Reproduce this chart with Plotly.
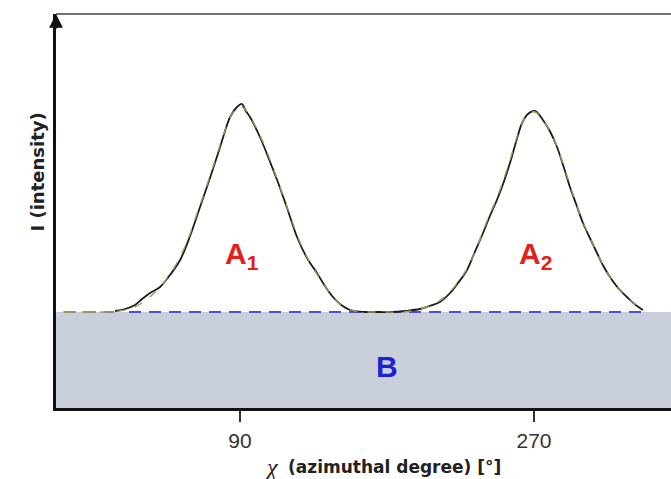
import plotly.graph_objects as go

# ---- data (chi in degrees, intensity in arbitrary units) ----
x_range = [-22.7, 353.9]
y_max = 394
baseline_B = 96

chi_meas = [13.5, 19.6, 25.7, 30.0, 34.9, 41.0, 47.1, 53.3, 59.4, 65.5, 71.6, 77.8,
            83.9, 87.6, 91.2, 93.5, 96.1, 102.2, 108.4, 112.7, 118.8, 124.9, 131.0,
            137.1, 142.0, 146.9, 152.0, 157.3, 166.5, 175.0, 183.0, 191.0, 200.2,
            206.0, 212.4, 218.6, 223.5, 229.0, 233.5, 238.8, 243.0, 247.3, 251.5,
            255.3, 259.0, 262.7, 266.3, 270.6, 275.5, 280.0, 284.1, 288.0, 292.0,
            296.0, 300.0, 304.5, 308.6, 312.5, 316.5, 321.5, 326.9, 331.5, 336.7]
I_meas = [97, 99, 103, 109, 115, 121, 133, 148, 172, 201, 230, 261,
          291, 300, 304, 297, 291, 271, 246, 228, 200, 171, 150,
          135, 122, 111, 103, 98, 96, 96, 96, 97, 99,
          102, 106, 115, 125, 138, 155, 175, 192, 208, 226,
          245, 266, 285, 294, 297, 288, 276, 261, 242, 221,
          203, 185, 169, 155, 142, 131, 120, 111, 104, 98]

chi_fit = [-18.0, 0.0, 10.0, 16.0, 22.0, 28.0, 34.0, 40.0, 46.0, 52.0, 58.0, 64.0,
           70.0, 76.0, 82.0, 86.0, 90.0, 94.0, 98.0, 104.0, 110.0, 116.0, 122.0,
           128.0, 134.0, 140.0, 146.0, 152.0, 160.0, 170.0, 180.0, 190.0, 198.0,
           206.0, 212.0, 218.0, 224.0, 230.0, 236.0, 242.0, 248.0, 254.0, 260.0,
           264.0, 268.0, 272.0, 276.0, 282.0, 288.0, 294.0, 300.0, 306.0, 312.0,
           318.0, 324.0, 330.0, 337.5]
I_fit = [96, 96, 96, 97, 99, 103, 110, 119, 131, 147, 168, 196,
         224, 254, 283, 297, 302, 297, 286, 266, 241, 214, 186,
         161, 142, 127, 113, 103, 97, 96, 96, 96, 98,
         102, 107, 115, 127, 142, 165, 190, 213, 241, 273,
         289, 296, 295, 287, 269, 243, 213, 186, 164, 144,
         127, 115, 106, 97]

base_left_chi = [-18.0, 13.0]
base_main_chi = [22.0, 338.0]

tick_vals = [90, 270]
tick_text = ["90", "270"]

labels = [("A<sub>1</sub>", 90.9, 153, "#e3201b"),
          ("A<sub>2</sub>", 270.9, 153, "#e3201b"),
          ("B", 180.0, 42, "#1e22d6")]

fig = go.Figure()

# shaded background region B
fig.add_trace(go.Scatter(x=x_range, y=[baseline_B, baseline_B], mode="lines",
                         line=dict(width=0), fill="tozeroy",
                         fillcolor="#c9d0dc", hoverinfo="skip"))
# baseline dashed lines
fig.add_trace(go.Scatter(x=base_main_chi, y=[baseline_B, baseline_B], mode="lines",
                         line=dict(color="#4f4fd0", width=2, dash="12px,8px")))
fig.add_trace(go.Scatter(x=base_left_chi, y=[baseline_B, baseline_B], mode="lines",
                         line=dict(color="#8a8a80", width=2, dash="12px,8px")))
# measured curve
fig.add_trace(go.Scatter(x=chi_meas, y=I_meas, mode="lines", line_shape="spline",
                         line=dict(color="#1c1c1c", width=1.8)))
# fit curve (dashed)
fig.add_trace(go.Scatter(x=chi_fit, y=I_fit, mode="lines", line_shape="spline",
                         line=dict(color="#9a9a55", width=1.4, dash="8px,10px")))

for txt, x, y, c in labels:
    fig.add_annotation(x=x, y=y, text="<b>" + txt + "</b>", showarrow=False,
                       font=dict(family="Liberation Sans, Arial", size=30, color=c),
                       xanchor="center", yanchor="middle")

# y axis arrow head
fig.add_annotation(x=x_range[0], y=y_max, ax=0, ay=16, axref="pixel", ayref="pixel",
                   showarrow=True, arrowhead=2, arrowsize=1.1, arrowwidth=2.5,
                   arrowcolor="#111", text="")

# y axis title
fig.add_annotation(xref="paper", yref="paper", x=0, y=(408 - 172) / 394.0, xshift=-32,
                   text="<b>I (intensity)</b>", textangle=-90, showarrow=False,
                   font=dict(family="DejaVu Sans", size=18, color="#222"))
# x axis title: italic chi symbol + bold text
fig.add_annotation(xref="paper", yref="paper", x=(272 - 56) / 615.0, y=0, yshift=-59,
                   text="<i>χ</i>", showarrow=False, yanchor="middle", xanchor="center",
                   font=dict(family="Liberation Serif", size=24, color="#222"))
fig.add_annotation(xref="paper", yref="paper", x=(286 - 56) / 615.0, y=0, yshift=-59,
                   text="<b>(azimuthal degree) [°]</b>", showarrow=False,
                   yanchor="middle", xanchor="left",
                   font=dict(family="DejaVu Sans", size=17, color="#222"))

# top border line
fig.add_shape(type="line", xref="paper", yref="paper", x0=0, x1=1, y0=1, y1=1,
              line=dict(color="#444", width=1.5))

fig.update_layout(
    width=671, height=479, showlegend=False,
    margin=dict(l=56, r=0, t=14, b=71),
    paper_bgcolor="white", plot_bgcolor="white",
    xaxis=dict(range=x_range, showgrid=False, zeroline=False, showline=True,
               linecolor="#111", linewidth=2.5, ticks="outside", ticklen=11,
               tickwidth=1.5, tickcolor="#333", tickvals=tick_vals, ticktext=tick_text,
               ticklabelstandoff=1,
               tickfont=dict(family="Liberation Sans, Arial", size=21, color="#333")),
    yaxis=dict(range=[0, y_max], showgrid=False, zeroline=False, showline=True,
               linecolor="#111", linewidth=2.5, showticklabels=False, ticks=""),
)

fig.write_html("out.html")
